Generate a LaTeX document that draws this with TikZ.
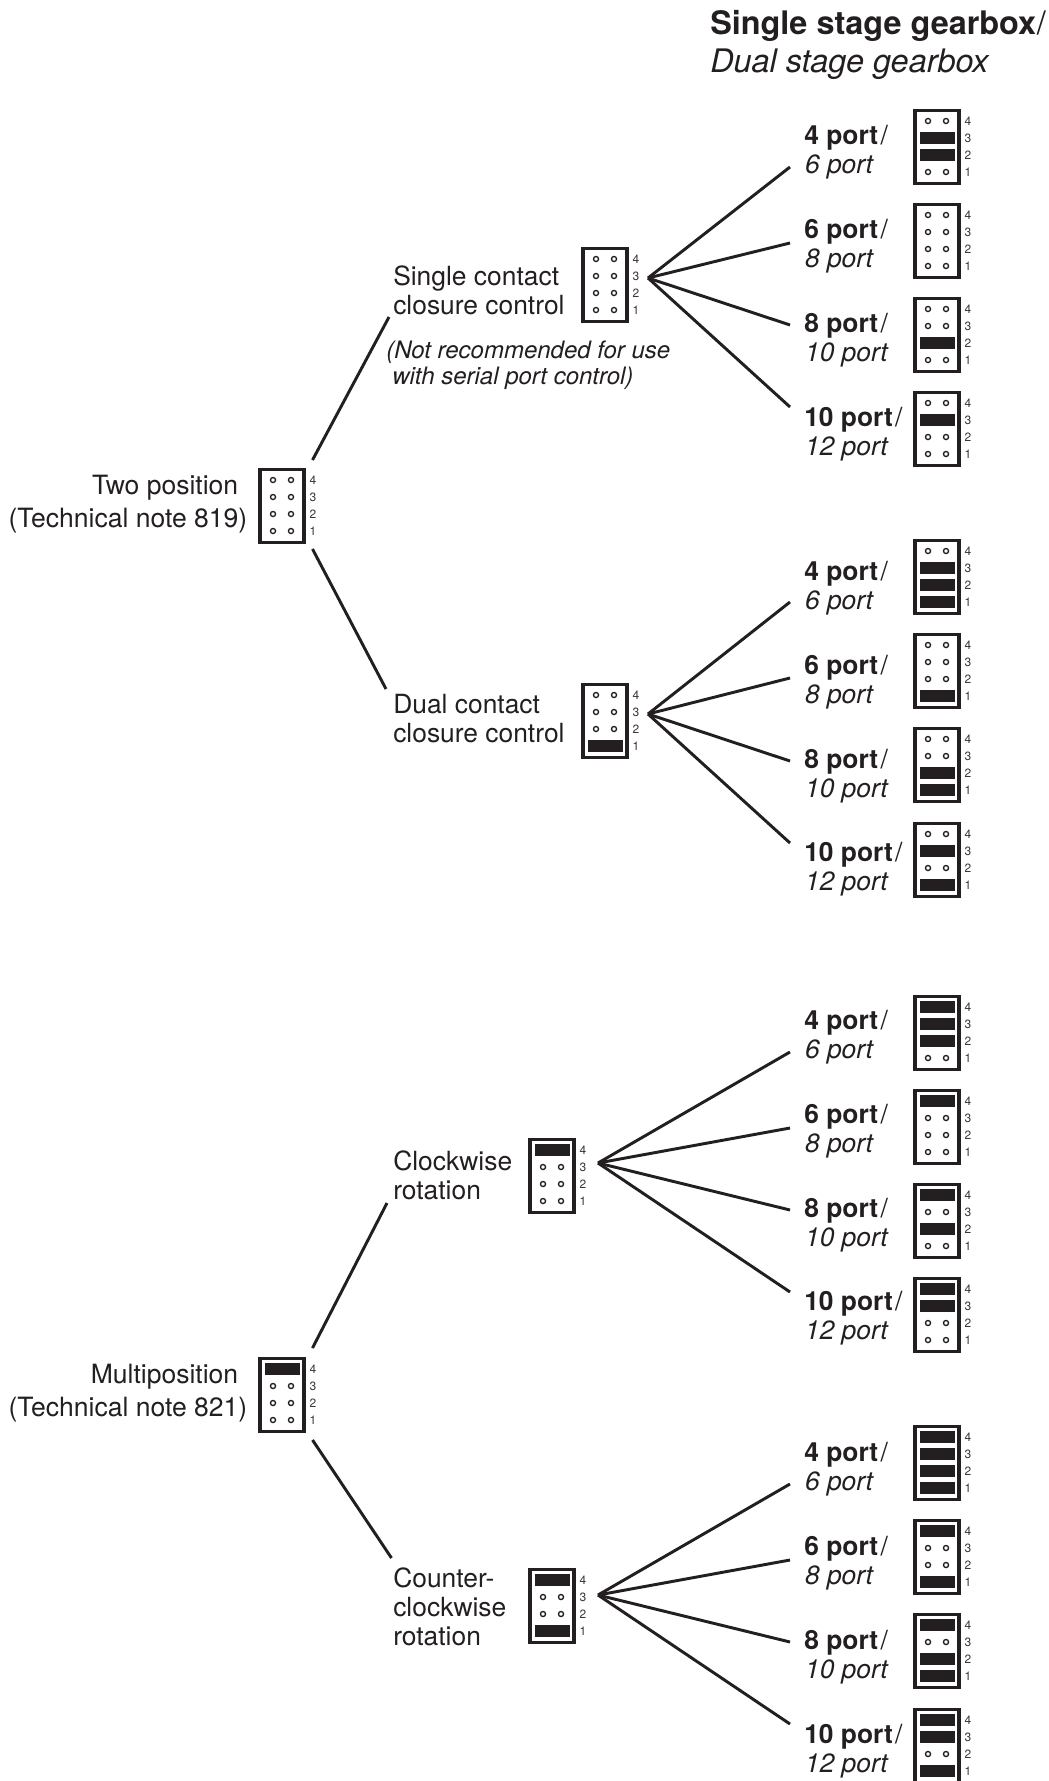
\documentclass[tikz,border=0pt]{standalone}
\usepackage{fontspec}
\setmainfont{TeX Gyre Heros}
\definecolor{ink}{HTML}{231F20}
\definecolor{pinlabel}{HTML}{3A3637}
\newcommand\fbig{\fontsize{24.3}{28.5}\selectfont}
\newcommand\fmid{\fontsize{19.8}{21.75}\selectfont}
\newcommand\fwide{\fontsize{19.9}{24.75}\selectfont}
\newcommand\fnote{\fontsize{18}{19.5}\selectfont}
\tikzset{
  jbox/.style={draw=ink,line width=2.7pt,fill=white,minimum width=33.3pt,minimum height=54.5pt,inner sep=0pt},
  pinnum/.style={text=pinlabel,font=\fontsize{9}{10}\selectfont,inner sep=0pt},
  label/.style={text=ink,inner sep=0pt,anchor=base west,align=left},
  rlabel/.style={text=ink,inner sep=0pt,anchor=base east,align=right},
  wire/.style={draw=ink,line width=2.2pt},
  jumperbar/.style={fill=ink},
  pinhole/.style={draw=ink,line width=1pt,fill=white}
}
% row: x-left, y-top, offset, number, flag
\newcommand\jrow[5]{%
  \pgfmathsetmacro\ry{#2+#3}%
  \ifnum#5=1
    \fill[jumperbar] ({#1+7},{\ry-5.7}) rectangle ({#1+41.5},{\ry+5.7});
  \else
    \draw[pinhole] ({#1+15},\ry) circle[radius=1.9pt];
    \draw[pinhole] ({#1+33},\ry) circle[radius=1.9pt];
  \fi
  \node[pinnum] at ({#1+55},\ry) {#4};
}
% id, x-left, y-top, flags 4 3 2 1
\newcommand\jumper[7]{%
  \node[jbox] (#1) at ({#2+24},{#3+38}) {};
  \jrow{#2}{#3}{12}{4}{#4}
  \jrow{#2}{#3}{29}{3}{#5}
  \jrow{#2}{#3}{46}{2}{#6}
  \jrow{#2}{#3}{63}{1}{#7}
}
% id, baseline, bold, italic
\newcommand\port[4]{\node[label,font=\fmid] (#1) at (804,#2) {\textbf{#3}\kern1.8pt/\\\kern0.6pt\textit{#4}};}
\begin{document}
\begin{tikzpicture}[x=0.75pt,y=-0.75pt]
\path[use as bounding box,clip] (0,0) rectangle (1049,1781);
\fill[white] (0,0) rectangle (1049,1781);

\node[label,font=\fbig] (title) at (710,72.5) {\textbf{Single stage gearbox}\kern0.6pt/\\\textit{Dual stage gearbox}};

% ---- Two position
\node[rlabel,font=\fwide,align=right] (twopos) at (247.5,527) {Two position\hspace*{6.75pt}\\(Technical note 819)};
\jumper{jtwo}{258}{468}{0}{0}{0}{0}
\coordinate (twoUp) at (312.5,460);
\coordinate (twoUpEnd) at (389,317);
\coordinate (twoDn) at (312.5,549);
\coordinate (twoDnEnd) at (386,689);
\draw[wire] (twoUp) -- (twoUpEnd);
\draw[wire] (twoDn) -- (twoDnEnd);

\node[label,font=\fmid] (single) at (393,314.5) {Single contact\\closure control};
\node[label,font=\fnote] (note) at (386,384) {\textit{(Not recommended for use}\\\hspace*{4.5pt}\textit{with serial port control)}};
\jumper{jsingle}{581}{247}{0}{0}{0}{0}
\coordinate (fanA) at (648,278);

\node[label,font=\fmid] (dual) at (393,742) {Dual contact\\closure control};
\jumper{jdual}{581}{683}{0}{0}{0}{1}
\coordinate (fanB) at (648,714);

% ---- Multiposition
\node[rlabel,font=\fwide,align=right] (multi) at (247.5,1416) {Multiposition\hspace*{6.75pt}\\(Technical note 821)};
\jumper{jmulti}{258}{1357}{1}{0}{0}{0}
\coordinate (mulUp) at (312.5,1348);
\coordinate (mulUpEnd) at (387,1203);
\coordinate (mulDn) at (312.5,1440);
\coordinate (mulDnEnd) at (391.5,1558);
\draw[wire] (mulUp) -- (mulUpEnd);
\draw[wire] (mulDn) -- (mulDnEnd);

\node[label,font=\fmid] (cw) at (393,1199) {Clockwise\\rotation};
\jumper{jcw}{528}{1138}{1}{0}{0}{0}
\coordinate (fanC) at (598,1163);

\node[label,font=\fmid] (ccw) at (393,1645) {Counter-\\clockwise\\rotation};
\jumper{jccw}{528}{1568}{1}{0}{0}{1}
\coordinate (fanD) at (598,1595);

% ---- Group A
\port{a1}{173}{4 port}{6 port}
\port{a2}{267}{6 port}{8 port}
\port{a3}{361}{8 port}{10 port}
\port{a4}{455}{10 port}{12 port}
\jumper{ja1}{913}{109}{0}{1}{1}{0}
\jumper{ja2}{913}{203}{0}{0}{0}{0}
\jumper{ja3}{913}{297}{0}{0}{1}{0}
\jumper{ja4}{913}{391}{0}{1}{0}{0}
\coordinate (ea1) at (790,167);
\coordinate (ea2) at (790,243);
\coordinate (ea3) at (790,325);
\coordinate (ea4) at (790,407);
\foreach \e in {ea1,ea2,ea3,ea4} \draw[wire] (fanA) -- (\e);

% ---- Group B
\port{b1}{609}{4 port}{6 port}
\port{b2}{703}{6 port}{8 port}
\port{b3}{797}{8 port}{10 port}
\port{b4}{890}{10 port}{12 port}
\jumper{jb1}{913}{539}{0}{1}{1}{1}
\jumper{jb2}{913}{633}{0}{0}{0}{1}
\jumper{jb3}{913}{727}{0}{0}{1}{1}
\jumper{jb4}{913}{822}{0}{1}{0}{1}
\coordinate (eb1) at (790,602);
\coordinate (eb2) at (790,678);
\coordinate (eb3) at (790,761);
\coordinate (eb4) at (790,843);
\foreach \e in {eb1,eb2,eb3,eb4} \draw[wire] (fanB) -- (\e);

% ---- Group C
\port{c1}{1058}{4 port}{6 port}
\port{c2}{1152}{6 port}{8 port}
\port{c3}{1246}{8 port}{10 port}
\port{c4}{1339}{10 port}{12 port}
\jumper{jc1}{913}{995}{1}{1}{1}{0}
\jumper{jc2}{913}{1089}{1}{0}{0}{0}
\jumper{jc3}{913}{1183}{1}{0}{1}{0}
\jumper{jc4}{913}{1277}{1}{1}{0}{0}
\coordinate (ec1) at (790,1052);
\coordinate (ec2) at (790,1128);
\coordinate (ec3) at (790,1210);
\coordinate (ec4) at (790,1292);
\foreach \e in {ec1,ec2,ec3,ec4} \draw[wire] (fanC) -- (\e);

% ---- Group D
\port{d1}{1490}{4 port}{6 port}
\port{d2}{1584}{6 port}{8 port}
\port{d3}{1678}{8 port}{10 port}
\port{d4}{1772}{10 port}{12 port}
\jumper{jd1}{913}{1425}{1}{1}{1}{1}
\jumper{jd2}{913}{1519}{1}{0}{0}{1}
\jumper{jd3}{913}{1613}{1}{0}{1}{1}
\jumper{jd4}{913}{1708}{1}{1}{0}{1}
\coordinate (ed1) at (790,1484);
\coordinate (ed2) at (790,1560);
\coordinate (ed3) at (790,1642);
\coordinate (ed4) at (790,1724);
\foreach \e in {ed1,ed2,ed3,ed4} \draw[wire] (fanD) -- (\e);
\end{tikzpicture}
\end{document}
